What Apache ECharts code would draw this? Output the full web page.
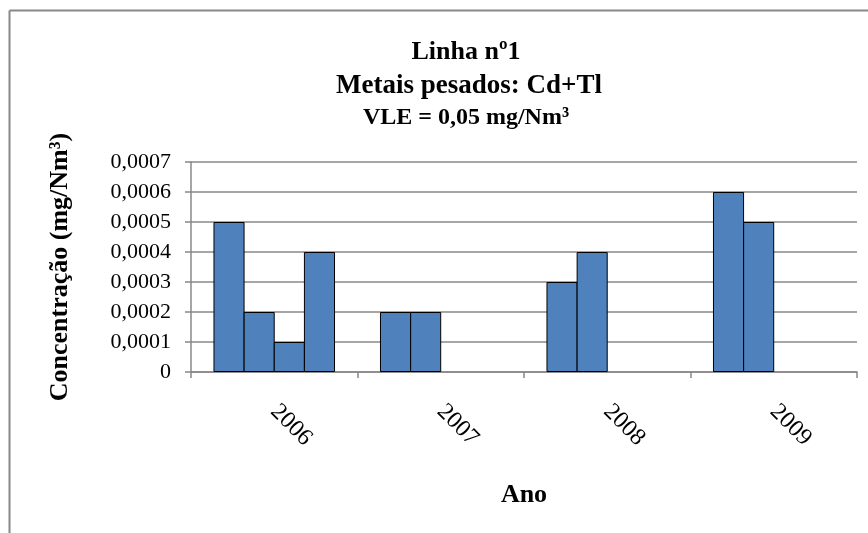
<!DOCTYPE html>
<html>
<head>
<meta charset="utf-8">
<script src="https://cdn.jsdelivr.net/npm/echarts@6/dist/echarts.min.js"></script>
<style>
html,body{margin:0;padding:0;background:#fff;}
#chart{width:868px;height:533px;}
</style>
</head>
<body>
<div id="chart"></div>
<script>
const categories = ['2006', '2007', '2008', '2009'];
const serie1 = [0.0005, 0.0002, 0.0003, 0.0006];
const serie2 = [0.0002, 0.0002, 0.0004, 0.0005];
const serie3 = [0.0001, null, null, null];
const serie4 = [0.0004, null, null, null];
const titleLines = ['Linha nº1', 'Metais pesados: Cd+Tl', 'VLE = 0,05 mg/Nm³'];
const yAxisName = 'Concentração (mg/Nm³)';
const xAxisName = 'Ano';

const serif = '"Liberation Serif", "Times New Roman", serif';
const barStyle = { color: '#4F81BD', borderColor: '#000', borderWidth: 1 };
const mk = (d) => ({ type: 'bar', data: d, itemStyle: barStyle, barGap: '-3%', barCategoryGap: '27%', animation: false, silent: true });

const chart = echarts.init(document.getElementById('chart'), null, { renderer: 'canvas' });
chart.setOption({
  backgroundColor: '#fff',
  animation: false,
  title: [
    { text: titleLines[0], left: 461, top: 34, textAlign: 'center', textStyle: { fontFamily: serif, fontWeight: 'bold', fontSize: 26, color: '#000' } },
    { text: titleLines[1], left: 464, top: 68, textAlign: 'center', textStyle: { fontFamily: serif, fontWeight: 'bold', fontSize: 27, color: '#000' } },
    { text: titleLines[2], left: 461, top: 101, textAlign: 'center', textStyle: { fontFamily: serif, fontWeight: 'bold', fontSize: 24, color: '#000' } }
  ],
  graphic: [
    { type: 'line', shape: { x1: 9.5, y1: 10.5, x2: 868, y2: 10.5 }, style: { stroke: '#888', lineWidth: 2 } },
    { type: 'line', shape: { x1: 9.5, y1: 10.5, x2: 9.5, y2: 533 }, style: { stroke: '#888', lineWidth: 2 } }
  ],
  grid: { left: 191, right: 11, top: 162, bottom: 161 },
  xAxis: {
    type: 'category',
    data: categories,
    name: xAxisName,
    nameLocation: 'middle',
    nameGap: 110,
    nameTextStyle: { fontFamily: serif, fontWeight: 'bold', fontSize: 26, color: '#000' },
    axisLine: { lineStyle: { color: '#888', width: 1.5 } },
    axisTick: { show: true, length: 6, lineStyle: { color: '#888', width: 1.5 } },
    axisLabel: { rotate: -45, margin: 36, fontFamily: serif, fontSize: 24, color: '#000' },
    splitLine: { show: false }
  },
  yAxis: {
    type: 'value',
    min: 0, max: 0.0007, interval: 0.0001,
    name: yAxisName,
    nameLocation: 'middle',
    nameGap: 118,
    nameRotate: 90,
    nameTextStyle: { fontFamily: serif, fontWeight: 'bold', fontSize: 26, color: '#000' },
    axisLine: { show: true, lineStyle: { color: '#888', width: 1.5 } },
    axisTick: { show: true, length: 6, lineStyle: { color: '#888', width: 1.5 } },
    axisLabel: {
      margin: 20, fontFamily: serif, fontSize: 22, color: '#000',
      formatter: (v) => v === 0 ? '0' : v.toFixed(4).replace('.', ',')
    },
    splitLine: { show: true, lineStyle: { color: '#888', width: 1.5 } }
  },
  series: [mk(serie1), mk(serie2), mk(serie3), mk(serie4)]
});
</script>
</body>
</html>
